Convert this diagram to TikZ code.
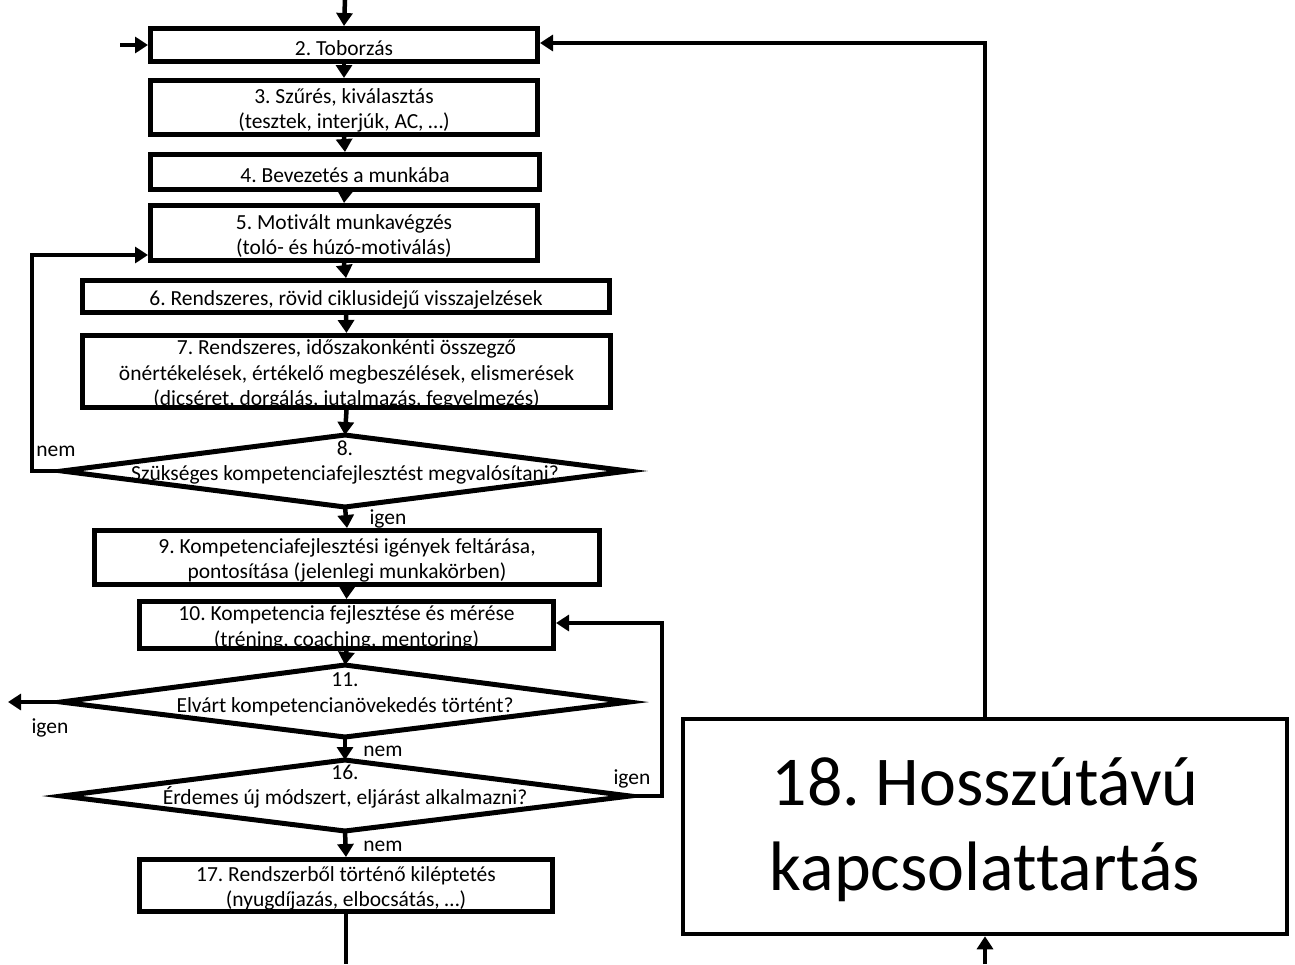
\documentclass[tikz,border=0pt]{standalone}
\usepackage{fontspec}
\setmainfont[Ligatures={NoCommon}]{Carlito}
\usetikzlibrary{arrows.meta}
\newcommand\flowfont{\fontsize{21.5}{25.5}\selectfont}
\newcommand\bigflowfont{\fontsize{70}{85}\selectfont}
\begin{document}
\frenchspacing
\begin{tikzpicture}[x=1pt,y=-1pt,
  box/.style={draw, line width=5pt, inner sep=0pt},
  bigbox/.style={draw, line width=4.5pt, inner sep=0pt},
  boxtext/.style={inner sep=0pt, align=center, font=\flowfont, yshift=-3pt},
  bigtext/.style={inner sep=0pt, align=center, font=\bigflowfont, yshift=-3pt},
  decision/.style={draw, line width=5pt, line join=miter},
  dtext/.style={inner sep=0pt, align=center, font=\flowfont, yshift=-1.5pt},
  conn/.style={line width=4.5pt, line join=miter, -{Triangle[length=13pt,width=16pt]}},
  plain/.style={line width=4.5pt, line join=miter},
  lbl/.style={inner sep=0pt, font=\flowfont}]
\useasboundingbox (0,0) rectangle (1295,964);

% process boxes
\node[box, minimum width=387, minimum height=33] (b2) at (344,45) {};
\node[box, minimum width=387, minimum height=54] (b3) at (344,107.5) {};
\node[box, minimum width=389, minimum height=35] (b4) at (345,172) {};
\node[box, minimum width=387, minimum height=55] (b5) at (344,233) {};
\node[box, minimum width=527, minimum height=32] (b6) at (346,296.5) {};
\node[box, minimum width=528, minimum height=72] (b7) at (346.5,371.5) {};
\node[box, minimum width=505, minimum height=54] (b9) at (347,557.5) {};
\node[box, minimum width=414, minimum height=47] (b10) at (346.5,625) {};
\node[box, minimum width=413, minimum height=52] (b17) at (346,885.5) {};
\node[bigbox, minimum width=604, minimum height=215] (b18) at (985,826.5) {};

% box texts
\node[boxtext] (t2) at (b2) {2. Toborzás};
\node[boxtext] (t3) at (b3) {3. Szűrés, kiválasztás\\(tesztek, interjúk, AC, …)};
\node[boxtext] (t4) at (b4) {4. Bevezetés a munkába};
\node[boxtext] (t5) at (b5) {5. Motivált munkavégzés\\(toló- és húzó-motiválás)};
\node[boxtext] (t6) at (b6) {6. Rendszeres, rövid ciklusidejű visszajelzések};
\node[boxtext] (t7) at (b7) {7. Rendszeres, időszakonkénti összegző\\önértékelések, értékelő megbeszélések, elismerések\\(dicséret, dorgálás, jutalmazás, fegyelmezés)};
\node[boxtext] (t9) at (b9) {9. Kompetenciafejlesztési igények feltárása,\\pontosítása (jelenlegi munkakörben)};
\node[boxtext] (t10) at (b10) {10. Kompetencia fejlesztése és mérése\\(tréning, coaching, mentoring)};
\node[boxtext] (t17) at (b17) {17. Rendszerből történő kiléptetés\\(nyugdíjazás, elbocsátás, …)};
\node[bigtext] (t18) at (b18) {18. Hosszútávú\\kapcsolattartás};

% decision 8
\coordinate (d8t) at (345,435);
\coordinate (d8r) at (628,471);
\coordinate (d8b) at (345,507);
\coordinate (d8l) at (62,471);
\draw[decision] (d8t) -- (d8r) -- (d8b) -- (d8l) -- cycle;
\node[dtext] (t8) at (345,461) {8.\\Szükséges kompetenciafejlesztést megvalósítani?};

% decision 11
\coordinate (d11t) at (345,665);
\coordinate (d11r) at (629,702);
\coordinate (d11b) at (345,737);
\coordinate (d11l) at (61,702);
\draw[decision] (d11t) -- (d11r) -- (d11b) -- (d11l) -- cycle;
\node[dtext] (t11) at (345,693) {11.\\Elvárt kompetencianövekedés történt?};

% decision 16
\coordinate (d16t) at (345,760);
\coordinate (d16r) at (630,796);
\coordinate (d16b) at (345,831);
\coordinate (d16l) at (62,796);
\draw[decision] (d16t) -- (d16r) -- (d16b) -- (d16l) -- cycle;
\node[dtext] (t16) at (345,785) {16.\\Érdemes új módszert, eljárást alkalmazni?};

% free ends and bends
\coordinate (top) at (345,0);
\coordinate (leftin) at (120,45);
\coordinate (exit11) at (8,702);
\coordinate (bottom17) at (346,964);
\coordinate (bottom18) at (985,964);
\coordinate (loop8a) at (32,471);
\coordinate (loop8b) at (32,255);
\coordinate (loop8c) at (148,255);
\coordinate (loop16a) at (662,796);
\coordinate (loop16b) at (662,623);
\coordinate (loop16c) at (556,623);
\coordinate (ret18) at (985,43);
\coordinate (ret2) at (540,43);

% main flow
\draw[conn] (top) -- (b2.north);
\draw[conn] (leftin) -- (b2.west);
\draw[conn] (b2.south) -- (b3.north);
\draw[conn] (b3.south) -- (b4.north);
\draw[conn] (b4.south) -- (b5.north);
\draw[conn] (b5.south) -- (b6.north);
\draw[conn] (b6.south) -- (b7.north);
\draw[conn] (b7.south) -- (d8t);
\draw[conn] (d8b) -- (b9.north);
\draw[conn] (b9.south) -- (b10.north);
\draw[conn] (b10.south) -- (d11t);
\draw[conn] (d11b) -- (d16t);
\draw[conn] (d16b) -- (b17.north);
\draw[plain] (b17.south) -- (bottom17);

% loops and exits
\draw[conn] (d8l) -- (loop8a) -- (loop8b) -- (loop8c);
\draw[conn] (d11l) -- (exit11);
\draw[conn] (d16r) -- (loop16a) -- (loop16b) -- (loop16c);
\draw[conn] (b18.north) -- (ret18) -- (ret2);
\draw[conn] (bottom18) -- (b18.south);

% branch labels
\node[lbl] (n8) at (56,451) {nem};
\node[lbl] (y8) at (388,519) {igen};
\node[lbl] (y11) at (50,728) {igen};
\node[lbl] (n11) at (383,751) {nem};
\node[lbl] (y16) at (632,779) {igen};
\node[lbl] (n16) at (383,846) {nem};
\end{tikzpicture}
\end{document}
